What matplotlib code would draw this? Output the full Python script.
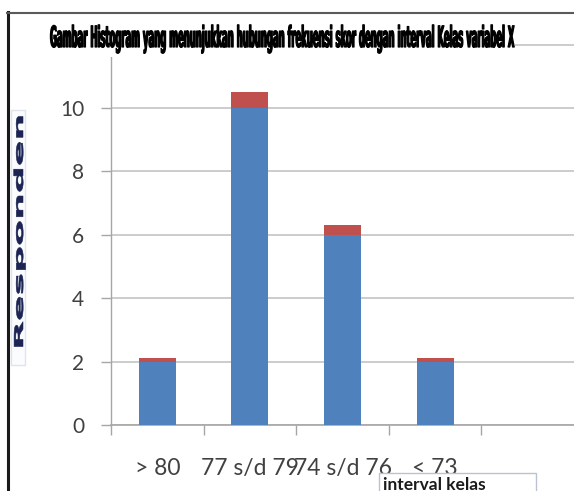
import matplotlib
matplotlib.use('Agg')
import matplotlib.pyplot as plt
import numpy as np
from matplotlib.patches import Rectangle
from matplotlib.lines import Line2D
from matplotlib.patheffects import AbstractPathEffect
from matplotlib.transforms import Affine2D

# ---- data ----
categories = ['> 80', '77 s/d 79', '74 s/d 76', '< 73', '']
blue_values = [2, 10, 6, 2, 0]
red_values = [0.1, 0.5, 0.3, 0.1, 0]
y_ticks = [0, 2, 4, 6, 8, 10, 12]
y_tick_labels = ['0', '2', '4', '6', '8', '10', '']
title_text = 'Gambar Histogram yang menunjukkan hubungan frekuensi skor dengan interval Kelas variabel X'
y_label = 'Responden'
x_label = 'interval kelas'

plt.rcParams['font.family'] = ['Lato', 'DejaVu Sans']

W, H = 574, 491
fig = plt.figure(figsize=(W / 100, H / 100), dpi=100)


def fx(x):
    return x / W


def fy(y):
    return 1 - y / H


class Stretch(AbstractPathEffect):
    """Scale glyph outlines in the text's own frame (about its baseline start)."""

    def __init__(self, sx=1.0, sy=1.0, stroke=0.0):
        super().__init__((0, 0))
        self.sx = sx
        self.sy = sy
        self.stroke = stroke

    def draw_path(self, renderer, gc, tpath, affine, rgbFace=None):
        tr = Affine2D().scale(self.sx, self.sy) + affine
        if self.stroke > 0:
            gc0 = renderer.new_gc()
            gc0.copy_properties(gc)
            gc0.set_linewidth(self.stroke)
            gc0.set_foreground(rgbFace)
            renderer.draw_path(gc0, tpath, tr, rgbFace)
            gc0.restore()
        else:
            renderer.draw_path(gc, tpath, tr, rgbFace)


ax = fig.add_axes([fx(111), fy(425), 1 - fx(111), (425 - 44.5) / H])

x = np.arange(len(categories))
ax.bar(x, blue_values, width=0.4, color='#4F81BD', zorder=3)
ax.bar(x, red_values, bottom=blue_values, width=0.4, color='#C0504D', zorder=3)

ax.set_xlim(-0.5, len(categories) - 0.5)
ax.set_ylim(y_ticks[0], y_ticks[-1])
ax.set_yticks(y_ticks)
ax.set_yticklabels(y_tick_labels)
ax.set_xticks(x)
ax.set_xticklabels(categories)
ax.set_xticks(x - 0.5, minor=True)

ax.yaxis.grid(True, color='#c3c3c3', lw=1.2)
ax.set_axisbelow(True)
for s in ['top', 'right']:
    ax.spines[s].set_visible(False)
ax.spines['left'].set_color('#a6a6a6')
ax.spines['bottom'].set_color('#a6a6a6')
ax.spines['left'].set_linewidth(1.0)
ax.spines['bottom'].set_linewidth(1.2)

ax.tick_params(axis='y', length=7.2, width=1, color='#a6a6a6', pad=12,
               labelsize=15, labelcolor='#404040')
ax.tick_params(axis='x', which='major', length=0, pad=24,
               labelsize=16.5, labelcolor='#404040')
ax.tick_params(axis='x', which='minor', length=7.2, width=1, color='#a6a6a6')

# white backing behind the title (hides the top gridline)
fig.add_artist(Rectangle((fx(45), fy(57)), (515 - 45) / W, (57 - 18) / H,
                         transform=fig.transFigure, facecolor='white',
                         edgecolor='none', zorder=5))

title = fig.text(fx(50), fy(47), title_text, ha='left', va='baseline',
                 fontsize=8, fontweight='bold',
                 family=['Liberation Sans Narrow', 'DejaVu Sans'],
                 color='black', zorder=6)

# y label box
fig.add_artist(Rectangle((fx(11), fy(365)), (25 - 11) / W, (365 - 110) / H,
                         transform=fig.transFigure, facecolor='#fbfcfe',
                         edgecolor='#dfe4ec', lw=1, zorder=5))
ylab_fs = 8.8
ylab = fig.text(fx(23), fy(350), y_label, rotation=90, rotation_mode='anchor',
                ha='left', va='baseline', fontsize=ylab_fs, fontweight='bold',
                family=['DejaVu Sans'], color='#1b2452', zorder=6)

# x label box
fig.add_artist(Rectangle((fx(379), fy(496)), (536 - 379) / W, (496 - 473) / H,
                         transform=fig.transFigure, facecolor='white',
                         edgecolor='#b8c2d2', lw=1, zorder=5))
fig.text(fx(383), fy(476.5), x_label, ha='left', va='top', fontsize=12.5,
         fontweight='bold', color='#1a1a1a', zorder=6)

# frame lines
fig.add_artist(Line2D([fx(8), fx(8)], [fy(12), 0], transform=fig.transFigure,
                      color='#1a1a1a', lw=2.2, zorder=7))
fig.add_artist(Line2D([fx(7), 1], [fy(12.5), fy(12.5)], transform=fig.transFigure,
                      color='#5a5a5a', lw=1.5, zorder=7))

# fit the distorted texts
fig.canvas.draw()
r = fig.canvas.get_renderer()
w = title.get_window_extent(r).width
fs = title.get_fontsize() * 463 / w
title.set_fontsize(fs)
cap = 0.72 * fs * 100 / 72
title.set_path_effects([Stretch(1.0, 21 / cap, stroke=0.9)])

L = ylab.get_window_extent(r).height
ylab.set_path_effects([Stretch(237 / L, 1.0, stroke=0.4)])

fig.savefig('out.png', dpi=100)
